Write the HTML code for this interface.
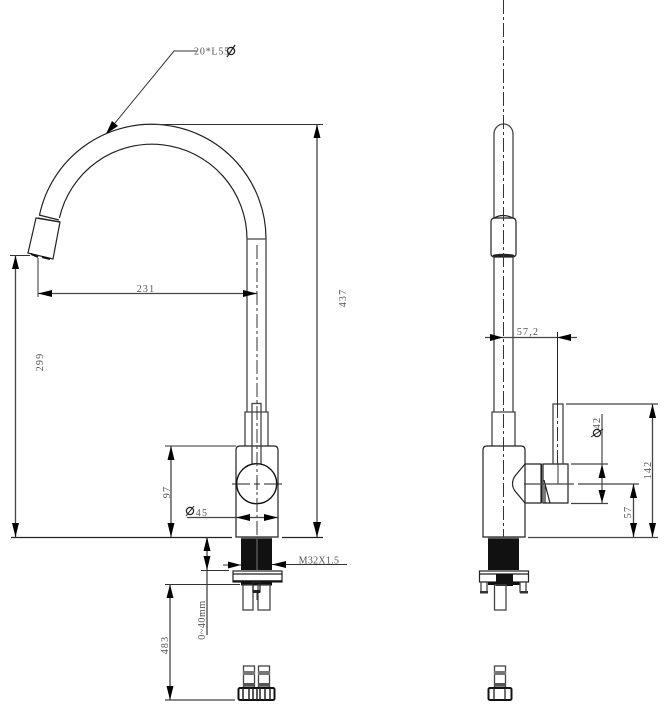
<!DOCTYPE html>
<html><head><meta charset="utf-8"><style>
html,body{margin:0;padding:0;background:#fff}
svg{display:block}
text{font-family:"Liberation Serif",serif;font-size:10px;fill:#555;letter-spacing:1.2px;text-anchor:middle}
.k{fill:none;stroke:#222;stroke-width:1.2}
.g{fill:none;stroke:#444;stroke-width:1.3}
.d{fill:none;stroke:#333;stroke-width:1}
.c{fill:none;stroke:#333;stroke-width:1;stroke-dasharray:14 3 3 3}
.a{fill:#000;stroke:none}
</style></head><body>
<svg width="670" height="712" viewBox="0 0 670 712" xmlns="http://www.w3.org/2000/svg">
<!-- LEFT VIEW spout -->
<path class="k" d="M39.5 215 A114.5 114.5 0 0 1 266 239"/>
<path class="k" d="M59.4 218 A95 95 0 0 1 247 239"/>
<path class="k" d="M39 215 L59 220 M38 218 L60 222"/>
<polygon class="k" points="36,218 60,222 53,259 28,253"/>
<path d="M31 254 L38 257 M42 257 L50 259" stroke="#111" stroke-width="2" fill="none"/>
<!-- stem -->
<path class="g" d="M247 239 H266 M247 239 V412 M266 239 V412"/>
<path class="g" d="M245 446 V412 H268 V446"/>
<!-- body -->
<path class="k" d="M236 537 V450 Q236 446 240 446 H274 Q278 446 278 450 V537 Z"/>
<rect x="252" y="403.500" width="9" height="61" fill="#fff" class="g"/>
<circle cx="256.700" cy="483.700" r="20" fill="#fff" stroke="#111" stroke-width="1.400"/>
<path class="c" d="M257 245 V537"/>
<path d="M232 484 H250 M254 484 H260 M264 484 H282" stroke="#222" fill="none"/>
<path d="M257 478 V490" stroke="#222"/>
<!-- thread -->
<rect x="241" y="539" width="31" height="31" fill="#111"/>
<path d="M241 538 H272" stroke="#555" stroke-width="2"/>
<path d="M257 539 V570" stroke="#777" stroke-width="1"/>
<!-- flange -->
<rect x="233" y="571" width="49" height="11" class="k" fill="#fff" stroke-width="1.400"/>
<path class="k" d="M233 574 H282"/>
<path d="M233 581 H282" stroke="#111" stroke-width="1.500"/>
<rect x="241" y="582" width="31" height="3.500" fill="#111"/>
<rect x="243" y="585" width="10" height="25" class="g" fill="#fff"/>
<rect x="258" y="585" width="12" height="25" class="g" fill="#fff"/>
<rect x="253" y="582" width="7" height="10" class="k" fill="#fff"/>
<rect x="253" y="590" width="7" height="3" fill="#222"/>
<path class="d" d="M257 593 V600"/>
<!-- bottom fittings -->
<g class="g">
<rect x="243.500" y="666" width="11" height="21" fill="#fff"/>
<rect x="258.500" y="666" width="11" height="21" fill="#fff"/>
</g>
<rect x="243" y="671" width="12" height="4" fill="#777"/>
<rect x="258" y="671" width="12" height="4" fill="#777"/>
<rect x="243" y="683" width="12" height="3" fill="#555"/>
<rect x="258" y="683" width="12" height="3" fill="#555"/>
<rect x="238.500" y="688" width="36" height="12" rx="1.500" fill="#fff" stroke="#111" stroke-width="2"/>
<path stroke="#222" stroke-width="1.500" fill="none" d="M243 688 V700 M249 688 V700 M253 688 V700 M257 688 V700 M260 688 V700 M265 688 V700 M270 688 V700"/>

<!-- LEFT dimensions -->
<path class="d" d="M197 51 H174 L106 134"/>
<polygon class="a" points="106,134 112,121 118,126"/>
<text x="212" y="54.500" style="letter-spacing:.8px">20*L55</text>
<circle cx="231" cy="51" r="3.600" fill="none" stroke="#222" stroke-width="1.300"/>
<path d="M227 57 L235 45" stroke="#222" stroke-width="1.200"/>
<path class="d" d="M150 124.500 H323"/>
<path class="g" d="M317 124.500 V537"/>
<polygon class="a" points="317,124.500 313.500,138 320.500,138"/>
<polygon class="a" points="317,537 313,522 321,522"/>
<text transform="translate(346,298) rotate(-90)">437</text>
<path class="d" d="M10 255.500 H30"/>
<path class="g" d="M15.500 255.500 V537"/>
<polygon class="a" points="15.500,255.500 12,269 19,269"/>
<polygon class="a" points="15.500,537 12,523 19,523"/>
<text transform="translate(43,362) rotate(-90)">299</text>
<path class="d" d="M38 258 V297"/>
<path class="g" d="M38 293.500 H257"/>
<polygon class="a" points="38,293.500 52,290 52,297"/>
<polygon class="a" points="257,293.500 243,290 243,297"/>
<text x="146" y="292">231</text>
<path d="M11 537.500 H232 M282 537.500 H323" stroke="#222" stroke-width="1.200" fill="none"/>
<path class="d" d="M165 446 H236"/>
<path class="g" d="M171 446 V537"/>
<polygon class="a" points="171,446 167.500,460 174.500,460"/>
<polygon class="a" points="171,537 167.500,523 174.500,523"/>
<text transform="translate(170,492) rotate(-90)">97</text>
<path class="g" d="M187 517.500 H278"/>
<polygon class="a" points="236,517.500 250,514 250,521"/>
<polygon class="a" points="278,517.500 264,514 264,521"/>
<circle cx="190" cy="511" r="3.600" fill="none" stroke="#222" stroke-width="1.200"/>
<path d="M186 516 L194 506" stroke="#222"/>
<text x="202" y="516">45</text>
<!-- 0-40 -->
<path class="g" d="M207 537 V635"/>
<polygon class="a" points="207,537 203.500,551 210.500,551"/>
<polygon class="a" points="207,570 203.500,556 210.500,556"/>
<path class="d" d="M201 570.500 H229"/>
<text transform="translate(205,620) rotate(-90)" style="letter-spacing:.6px">0~40mm</text>
<!-- M32 -->
<path class="d" d="M223 565 H241 M272 564.500 H347"/>
<polygon class="a" points="241,565 228,561.500 228,568.500"/>
<polygon class="a" points="272,564.500 286,561 286,568"/>
<text x="319" y="563.500" style="letter-spacing:.3px">M32X1.5</text>
<!-- 483 -->
<path class="d" d="M165 584.500 H240"/>
<path class="g" d="M170 584.500 V700"/>
<polygon class="a" points="170,584.500 166.500,598 173.500,598"/>
<polygon class="a" points="170,700 166.500,686 173.500,686"/>
<path class="g" d="M165 700 H235"/>
<text transform="translate(168,645) rotate(-90)">483</text>

<!-- RIGHT VIEW -->
<path class="g" d="M494 218 V134 A9.500 10 0 0 1 513 134 V218"/>
<path class="g" d="M494 257 V412 M513 257 V412"/>
<path class="k" d="M494 218 Q503 213 513 218"/>
<path class="k" d="M491 222 Q491 218 495 218 H512 Q516 218 516 222 V254 Q516 257 512 257 H495 Q491 257 491 254 Z"/>
<ellipse cx="503.500" cy="255.500" rx="11" ry="1.700" fill="#222"/>
<path class="g" d="M492 446 V412 H515 V446"/>
<path class="k" d="M483 537 V450 Q483 446 487 446 H521 Q525 446 525 450 V537 Z"/>
<path class="k" d="M525 464 H541 V503 H525 L515 491 Q510 484 515 476 Z"/>
<path class="k" d="M543 464 V503 H568 V464 Z M541.500 464 V503"/>
<path class="k" d="M544 480 L550 503 M545 485 L545 503"/>
<rect x="553" y="404" width="10" height="60" class="g" fill="#fff"/>
<path class="d" d="M558 464 V484"/>
<path class="c" d="M503.500 0 V540"/>
<path d="M557.500 332 V404" stroke="#222" fill="none"/>
<path class="c" d="M557.500 404 V464"/>
<rect x="488" y="539" width="31" height="31" fill="#111"/>
<path d="M488 538 H519" stroke="#555" stroke-width="2"/>
<rect x="479.500" y="571" width="49" height="11" fill="#fff" class="k"/>
<path class="k" d="M480 574 H528"/>
<rect x="496" y="574" width="17" height="12" fill="#111"/>
<rect x="488" y="582" width="32" height="3" fill="#111"/>
<rect x="481" y="582" width="6" height="10" class="g" fill="#fff"/>
<rect x="520" y="582" width="6" height="10" class="g" fill="#fff"/>
<rect x="480" y="591" width="8" height="2.500" fill="#333"/>
<rect x="520" y="591" width="8" height="2.500" fill="#333"/>
<rect x="494.500" y="585" width="11.500" height="25" class="g" fill="#fff"/>
<rect x="494.500" y="666" width="11" height="21" class="g" fill="#fff"/>
<rect x="494" y="671" width="12" height="4" fill="#777"/>
<rect x="494" y="683" width="12" height="3" fill="#555"/>
<rect x="488.500" y="688" width="23" height="12" rx="1.500" fill="#fff" stroke="#111" stroke-width="2"/>
<path stroke="#222" stroke-width="1.300" fill="none" d="M494 688 V700 M505 688 V700"/>

<!-- RIGHT dimensions -->
<path class="g" d="M485 337.500 H577"/>
<polygon class="a" points="503,337.500 490,334 490,341"/>
<polygon class="a" points="557,337.500 571,334 571,341"/>
<text x="528" y="335">57,2</text>
<path class="g" d="M566 404 H658 M528 537.500 H658"/>
<path class="g" d="M652.500 404 V537"/>
<polygon class="a" points="652.500,404 649,418 656,418"/>
<polygon class="a" points="652.500,537 649,523 656,523"/>
<text transform="translate(651,470) rotate(-90)">142</text>
<path d="M602 414 V503" stroke="#222" fill="none"/>
<path class="g" d="M571 464 H608 M571 503.500 H608"/>
<polygon class="a" points="602,464 598.500,478 605.500,478"/>
<polygon class="a" points="602,503 598.500,490 605.500,490"/>
<circle cx="597" cy="433" r="3.600" fill="none" stroke="#222" stroke-width="1.200"/>
<path d="M591 437 L603 429" stroke="#222"/>
<text transform="translate(600,423) rotate(-90)">42</text>
<path class="g" d="M524 484 H574 M578 484 H639"/>
<path class="g" d="M633.500 484 V537"/>
<polygon class="a" points="633.500,484 630,498 637,498"/>
<polygon class="a" points="633.500,537 630,523 637,523"/>
<text transform="translate(631,512) rotate(-90)">57</text>
</svg>
</body></html>
